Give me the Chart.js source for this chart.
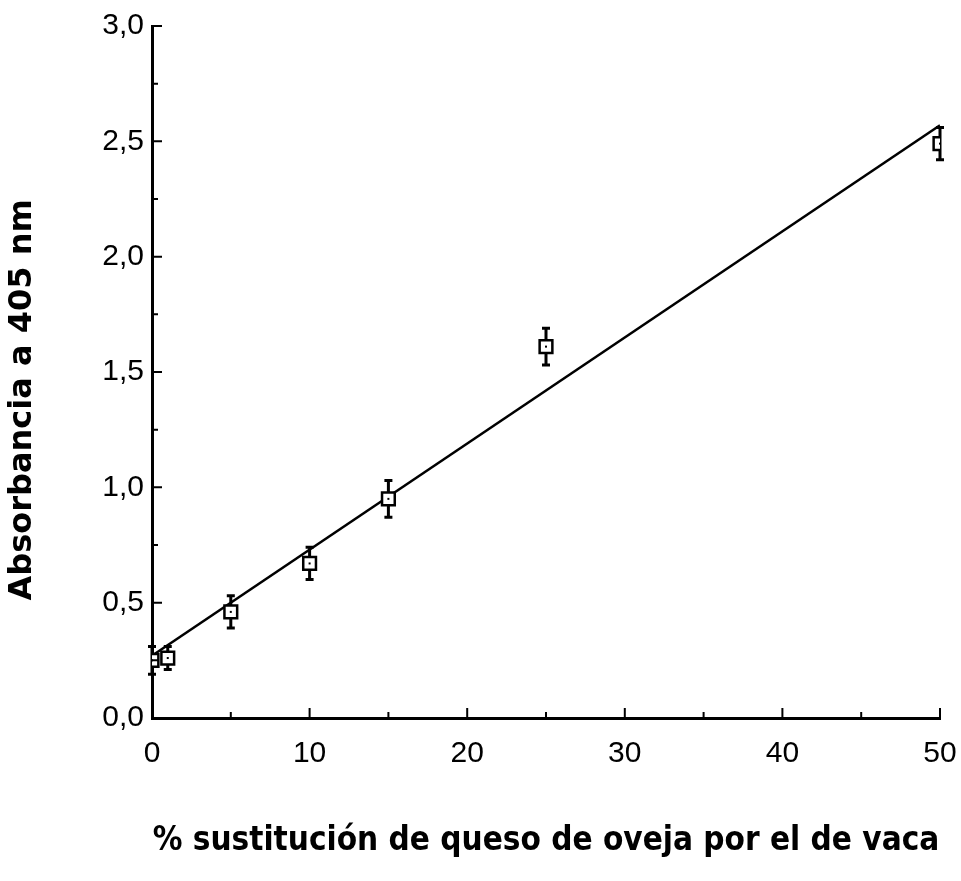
<!DOCTYPE html>
<html>
<head>
<meta charset="utf-8">
<script src="https://cdn.jsdelivr.net/npm/chart.js@4.4.1/dist/chart.umd.min.js"></script>
<style>
  html, body { margin: 0; padding: 0; background: #fff; }
  #wrap { width: 961px; height: 881px; }
</style>
</head>
<body>
<div id="wrap"><canvas id="myChart"></canvas></div>
<script>
// % sustitucion and measured absorbance (mean +/- error)
const sustitucion = [0, 1, 5, 10, 15, 25, 50];
const absorbancia = [0.25, 0.26, 0.46, 0.67, 0.95, 1.61, 2.49];
const errores = [0.06, 0.05, 0.07, 0.07, 0.08, 0.08, 0.07];
// regression line end points
const rectaX = [0, 50];
const rectaY = [0.27, 2.57];

const xTicks = [0, 10, 20, 30, 40, 50];
const yTicks = [0, 0.5, 1, 1.5, 2, 2.5, 3];

const puntos = sustitucion.map((x, i) => ({ x: x, y: absorbancia[i] }));
const recta = rectaX.map((x, i) => ({ x: x, y: rectaY[i] }));

// error bars behind the squares
const errorBars = {
    id: 'errorBars',
    beforeDatasetsDraw(chart) {
        const ctx = chart.ctx;
        const xs = chart.scales.x, ys = chart.scales.y;
        ctx.save();
        ctx.strokeStyle = '#000';
        ctx.lineWidth = 3;
        sustitucion.forEach((x, i) => {
            const px = xs.getPixelForValue(x);
            const top = ys.getPixelForValue(absorbancia[i] + errores[i]);
            const bot = ys.getPixelForValue(absorbancia[i] - errores[i]);
            ctx.beginPath();
            ctx.moveTo(px, top); ctx.lineTo(px, bot);
            ctx.moveTo(px - 4, top); ctx.lineTo(px + 4, top);
            ctx.moveTo(px - 4, bot); ctx.lineTo(px + 4, bot);
            ctx.stroke();
        });
        ctx.restore();
    },
    afterDatasetsDraw(chart) {
        // little dot in the middle of each square
        const ctx = chart.ctx;
        const meta = chart.getDatasetMeta(0);
        ctx.save();
        ctx.fillStyle = '#000';
        meta.data.forEach(p => ctx.fillRect(p.x - 1, p.y - 1, 2, 2));
        ctx.restore();
    }
};

// tick marks pointing into the plot
const innerTicks = {
    id: 'innerTicks',
    afterDraw(chart) {
        const ctx = chart.ctx;
        const xs = chart.scales.x, ys = chart.scales.y;
        const area = chart.chartArea;
        ctx.save();
        ctx.strokeStyle = '#000';
        ctx.lineWidth = 2;
        ctx.beginPath();
        for (let v = 5; v <= 50; v += 5) {
            const px = xs.getPixelForValue(v);
            const len = v % 10 === 0 ? 10 : 6;
            ctx.moveTo(px, area.bottom); ctx.lineTo(px, area.bottom - len);
        }
        for (let k = 1; k <= 12; k++) {
            const v = k * 0.25;
            const py = ys.getPixelForValue(v);
            const len = k % 2 === 0 ? 10 : 6;
            ctx.moveTo(area.left, py); ctx.lineTo(area.left + len, py);
        }
        ctx.stroke();
        ctx.restore();
    }
};

const tickFont = { family: 'Liberation Sans', size: 30 };

new Chart(document.getElementById('myChart'), {
    type: 'scatter',
    data: {
        datasets: [
            {
                data: puntos,
                pointStyle: 'rect',
                pointRadius: 9,
                pointHoverRadius: 9,
                pointBackgroundColor: '#fff',
                pointBorderColor: '#000',
                pointBorderWidth: 2.5,
                showLine: false,
                order: 0
            },
            {
                data: recta,
                showLine: true,
                borderColor: '#000',
                borderWidth: 2.5,
                pointRadius: 0,
                order: 1
            }
        ]
    },
    options: {
        responsive: true,
        maintainAspectRatio: false,
        animation: false,
        events: [],
        layout: { padding: { left: 0, top: 24, right: 21, bottom: 0 } },
        plugins: {
            legend: { display: false },
            tooltip: { enabled: false }
        },
        scales: {
            x: {
                type: 'linear',
                min: 0,
                max: 50,
                afterFit: (scale) => {
                    scale.height = 163;
                    scale.paddingRight = 0;
                    scale.paddingLeft = 0;
                },
                afterBuildTicks: (scale) => { scale.ticks = xTicks.map(v => ({ value: v })); },
                grid: { display: false, drawTicks: false },
                border: { display: true, color: '#000', width: 3 },
                ticks: { color: '#000', font: tickFont, padding: 18, maxRotation: 0 },
                title: {
                    display: true,
                    text: '% sustitución de queso de oveja por el de vaca',
                    color: '#000',
                    font: { family: 'DejaVu Sans Condensed', weight: 'bold', size: 33 },
                    padding: { top: 0, bottom: 20 }
                }
            },
            y: {
                type: 'linear',
                min: 0,
                max: 3,
                afterFit: (scale) => { scale.width = 152; },
                afterBuildTicks: (scale) => { scale.ticks = yTicks.map(v => ({ value: v })); },
                grid: { display: false, drawTicks: false },
                border: { display: true, color: '#000', width: 3 },
                ticks: {
                    color: '#000',
                    font: tickFont,
                    padding: 8,
                    callback: (v) => v.toFixed(1).replace('.', ',')
                },
                title: {
                    display: true,
                    text: 'Absorbancia a 405 nm     ',
                    color: '#000',
                    font: { family: 'DejaVu Sans', weight: 'bold', size: 32 },
                    padding: { top: 3, bottom: 0 }
                }
            }
        }
    },
    plugins: [errorBars, innerTicks]
});
</script>
</body>
</html>
